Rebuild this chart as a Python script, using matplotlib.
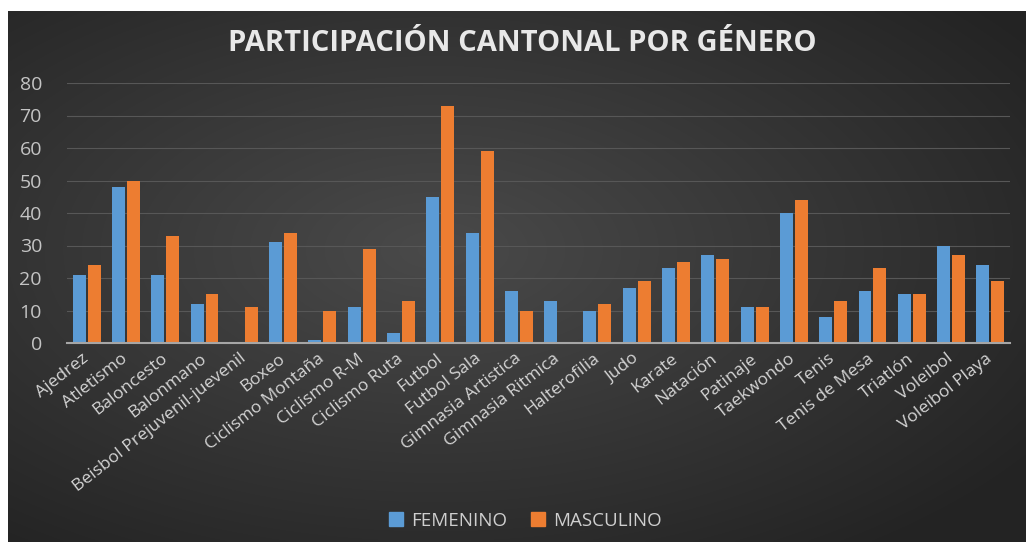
import matplotlib.pyplot as plt
import numpy as np

deportes = [
    "Ajedrez", "Atletismo", "Baloncesto", "Balonmano", "Beisbol Prejuvenil-juevenil",
    "Boxeo", "Ciclismo Montaña", "Ciclismo R-M", "Ciclismo Ruta", "Futbol",
    "Futbol Sala", "Gimnasia Artistica", "Gimnasia Ritmica", "Halterofilia", "Judo",
    "Karate", "Natación", "Patinaje", "Taekwondo", "Tenis",
    "Tenis de Mesa", "Triatlón", "Voleibol", "Voleibol Playa",
]
femenino = [21, 48, 21, 12, 0, 31, 1, 11, 3, 45, 34, 16, 13, 10, 17, 23, 27, 11, 40, 8, 16, 15, 30, 24]
masculino = [24, 50, 33, 15, 11, 34, 10, 29, 13, 73, 59, 10, 0, 12, 19, 25, 26, 11, 44, 13, 23, 15, 27, 19]
y_ticks = [0, 10, 20, 30, 40, 50, 60, 70, 80]

W, H = 1026, 542
fig = plt.figure(figsize=(W / 100, H / 100), dpi=100, facecolor="white")

# dark radial gradient background panel
bg = fig.add_axes([8 / W, 0, 1 - 8 / W, 1 - 11 / H])
bg.set_axis_off()
gx, gy = np.meshgrid(np.linspace(0, 1, 400), np.linspace(0, 1, 220))
r = np.sqrt(((gx - 0.42) / 0.75) ** 2 + ((gy - 0.45) / 0.75) ** 2)
shade = np.clip(0.29 - 0.16 * r, 0.14, 0.29)
bg.imshow(np.dstack([shade, shade, shade]), aspect="auto", extent=[0, 1, 0, 1],
          interpolation="bilinear")

ax = fig.add_axes([67 / W, 199 / H, (1010 - 67) / W, 260 / H])
ax.patch.set_alpha(0)
x = np.arange(len(deportes))
w = 0.33
ax.bar(x - 0.19, femenino, w, color="#5b9bd5", zorder=3)
ax.bar(x + 0.19, masculino, w, color="#ed7d31", zorder=3)

ax.set_xlim(-0.5, len(deportes) - 0.5)
ax.set_ylim(0, 80)
ax.set_yticks(y_ticks)
ax.grid(axis="y", color="#575757", linewidth=0.8, zorder=0)
for s in ["top", "right", "left"]:
    ax.spines[s].set_visible(False)
ax.spines["bottom"].set_color("#a6a6a6")
ax.spines["bottom"].set_linewidth(1.5)
ax.spines["bottom"].set_zorder(4)
ax.tick_params(axis="y", length=0, pad=18, labelsize=14, labelcolor="#c4c4c4")
ax.tick_params(axis="x", length=0, pad=10)
ax.set_xticks(x)
ax.set_xticklabels(deportes, rotation=38, ha="right", va="center", rotation_mode="anchor",
                   fontsize=12.6, color="#d4d4d4", family="Open Sans")
for t in ax.get_yticklabels():
    t.set_family("Open Sans")

fig.text(0.509, 0.919, "PARTICIPACIÓN CANTONAL POR GÉNERO", ha="center", va="center",
         fontsize=21, fontweight="bold", color="#e8e8e8", family="Open Sans")

handles = [plt.Rectangle((0, 0), 1, 1, color="#5b9bd5"),
           plt.Rectangle((0, 0), 1, 1, color="#ed7d31")]
leg = fig.legend(handles, ["FEMENINO", "MASCULINO"], loc="center", bbox_to_anchor=(0.512, 0.039),
                 ncol=2, frameon=False, handlelength=0.75, handleheight=0.75, handletextpad=0.4,
                 columnspacing=1.3, prop={"family": "Open Sans", "size": 13.5})
for t in leg.get_texts():
    t.set_color("#cfcfcf")

fig.savefig("out.png", dpi=100, facecolor="white")
